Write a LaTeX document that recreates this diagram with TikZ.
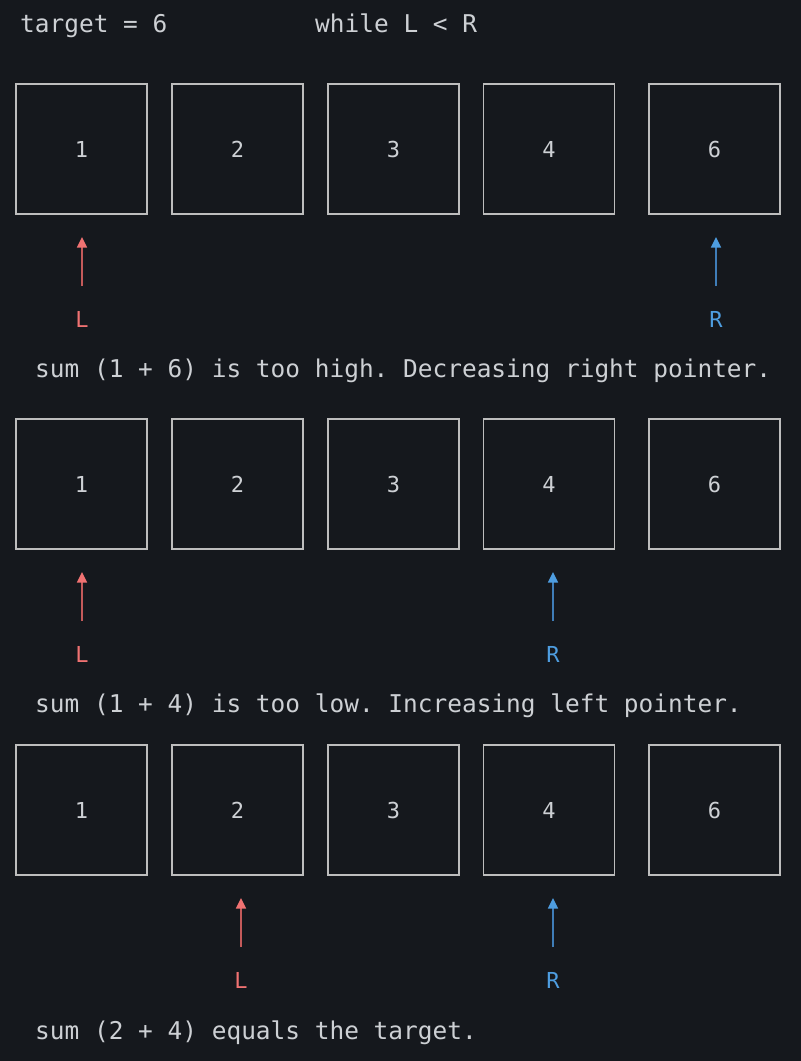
\documentclass[tikz,border=0pt]{standalone}
\usepackage{fontspec}
\setmonofont{DejaVu Sans Mono}
\usetikzlibrary{arrows.meta}
\definecolor{bg}{HTML}{15181D}
\definecolor{txt}{HTML}{CDD0D4}
\definecolor{boxc}{HTML}{BDBDBD}
\definecolor{Lc}{HTML}{F07272}
\definecolor{Ld}{HTML}{C45A5A}
\definecolor{Rc}{HTML}{4E9DE0}
\definecolor{Rd}{HTML}{3F7DB8}
\tikzset{
  cell/.style={draw=boxc, line width=1.5pt, minimum width=131pt, minimum height=130pt, inner sep=0pt, font=\ttfamily\fontsize{22}{22}\selectfont, text=txt},
  msg/.style={anchor=base west, inner sep=0pt, font=\ttfamily\fontsize{24.45}{24}\selectfont, text=txt},
  lab/.style={anchor=base, inner sep=0pt, font=\ttfamily\fontsize{22}{22}\selectfont},
  Larrow/.style={draw=Ld, line width=1.5pt, -{Triangle[length=10.5pt,width=10pt,color=Lc]}},
  Rarrow/.style={draw=Rd, line width=1.5pt, -{Triangle[length=10.5pt,width=10pt,color=Rc]}},
}
\begin{document}
\begin{tikzpicture}[x=1pt,y=-1pt]
\fill[bg] (0,0) rectangle (801,1061);
\useasboundingbox (0,0) rectangle (801,1061);
\node[msg] (hdr1) at (20,32) {target = 6};
\node[msg] (hdr2) at (315,32) {while L < R};
% row 1
\foreach \v/\x [count=\i] in {1/81.5,2/237.5,3/393.5,4/549,6/714.5}{
  \node[cell] (a\i) at (\x,149) {\v};
}
\node[lab,text=Lc] (aL) at (82,327) {L};
\node[lab,text=Rc] (aR) at (716,327) {R};
\coordinate (aLt) at (82,237);
\coordinate (aLb) at (82,286);
\coordinate (aRt) at (716,237);
\coordinate (aRb) at (716,286);
\draw[Larrow] (aLb) -- (aLt);
\draw[Rarrow] (aRb) -- (aRt);
\node[msg] (m1) at (35,377) {sum (1 + 6) is too high. Decreasing right pointer.};
% row 2
\foreach \v/\x [count=\i] in {1/81.5,2/237.5,3/393.5,4/549,6/714.5}{
  \node[cell] (b\i) at (\x,484) {\v};
}
\node[lab,text=Lc] (bL) at (82,662) {L};
\node[lab,text=Rc] (bR) at (553,662) {R};
\coordinate (bLt) at (82,572);
\coordinate (bLb) at (82,621);
\coordinate (bRt) at (553,572);
\coordinate (bRb) at (553,621);
\draw[Larrow] (bLb) -- (bLt);
\draw[Rarrow] (bRb) -- (bRt);
\node[msg] (m2) at (35,712) {sum (1 + 4) is too low. Increasing left pointer.};
% row 3
\foreach \v/\x [count=\i] in {1/81.5,2/237.5,3/393.5,4/549,6/714.5}{
  \node[cell] (c\i) at (\x,810) {\v};
}
\node[lab,text=Lc] (cL) at (241,988) {L};
\node[lab,text=Rc] (cR) at (553,988) {R};
\coordinate (cLt) at (241,898);
\coordinate (cLb) at (241,947);
\coordinate (cRt) at (553,898);
\coordinate (cRb) at (553,947);
\draw[Larrow] (cLb) -- (cLt);
\draw[Rarrow] (cRb) -- (cRt);
\node[msg] (m3) at (35,1039) {sum (2 + 4) equals the target.};
\end{tikzpicture}
\end{document}
